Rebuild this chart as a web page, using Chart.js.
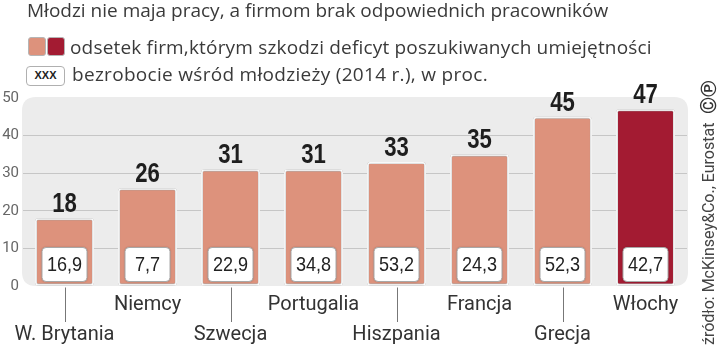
<!DOCTYPE html>
<html>
<head>
<meta charset="utf-8">
<script src="https://cdn.jsdelivr.net/npm/chart.js"></script>
<style>
    * { margin: 0; padding: 0; box-sizing: border-box; }
    body { background: #fff; width: 720px; height: 347px; overflow: hidden; }
    .wrap { position: relative; width: 720px; height: 347px; font-family: "Open Sans", sans-serif; color: #3a3a3a; }
    #chart { position: absolute; left: 0; top: 0; }
    .title { position: absolute; left: 27px; top: -2px; font-size: 19px; line-height: 24px; white-space: nowrap; }
    .leg { position: absolute; font-size: 19px; line-height: 22px; white-space: nowrap; }
    .sw { position: absolute; border: 1px solid #b5b5b5; border-radius: 3px; }
    .xxx { position: absolute; left: 26px; top: 66px; width: 39px; height: 20px; border: 1.5px solid #b0b0b0; border-radius: 4px; background: #fff;
           font: bold 11px "Liberation Sans", sans-serif; text-align: center; line-height: 17px; color: #222; }
    .src { position: absolute; left: 700px; top: 345px; transform: rotate(-90deg); transform-origin: left top; font-family: Roboto, sans-serif; font-size: 16px; line-height: 18px; white-space: nowrap; color: #444; }
    .cp { position: absolute; left: 698px; top: 114px; transform: rotate(-90deg); transform-origin: left top; font-family: Roboto, sans-serif; font-size: 22px; font-weight: bold; line-height: 22px; white-space: nowrap; color: #333; }
</style>
</head>
<body>
<div class="wrap">
    <canvas id="chart" width="720" height="347"></canvas>
    <div class="title">Młodzi nie maja pracy, a firmom brak odpowiednich pracowników</div>
    <div class="sw" style="left:28px;top:37px;width:18px;height:19px;background:#dd927c;"></div>
    <div class="sw" style="left:47px;top:37px;width:18px;height:19px;background:#a31b32;"></div>
    <div class="leg" style="left:70px;top:36px;letter-spacing:0.18px;">odsetek firm,którym szkodzi deficyt poszukiwanych umiejętności</div>
    <div class="xxx">XXX</div>
    <div class="leg" style="left:72px;top:63px;letter-spacing:0.3px;">bezrobocie wśród młodzieży (2014 r.), w proc.</div>
    <div class="src">źródło: McKinsey&amp;Co., Eurostat</div>
    <div class="cp">©℗</div>
</div>
<script>
    // dane
    const categories = ['W. Brytania', 'Niemcy', 'Szwecja', 'Portugalia', 'Hiszpania', 'Francja', 'Grecja', 'Włochy'];
    const skillGap = [18, 26, 31, 31, 33, 35, 45, 47];
    const youthUnemployment = [16.9, 7.7, 22.9, 34.8, 53.2, 24.3, 52.3, 42.7];
    const yTicks = [0, 10, 20, 30, 40, 50];

    const light = '#dd927c';
    const dark = '#a31b32';

    function roundRect(ctx, x, y, w, h, r) {
        ctx.beginPath();
        ctx.moveTo(x + r, y);
        ctx.lineTo(x + w - r, y);
        ctx.quadraticCurveTo(x + w, y, x + w, y + r);
        ctx.lineTo(x + w, y + h - r);
        ctx.quadraticCurveTo(x + w, y + h, x + w - r, y + h);
        ctx.lineTo(x + r, y + h);
        ctx.quadraticCurveTo(x, y + h, x, y + h - r);
        ctx.lineTo(x, y + r);
        ctx.quadraticCurveTo(x, y, x + r, y);
        ctx.closePath();
    }

    // tekst "zwężony" - nie ma fontu condensed, więc skalujemy w poziomie
    function narrowText(ctx, text, x, y, sx) {
        ctx.save();
        ctx.translate(x, y);
        ctx.scale(sx, 1);
        ctx.fillText(text, 0, 0);
        ctx.restore();
    }

    const panel = {
        id: 'panel',
        beforeDraw(chart) {
            const a = chart.chartArea, ctx = chart.ctx;
            ctx.save();
            roundRect(ctx, a.left - 1, a.top - 1, a.right - a.left + 2, a.bottom - a.top + 1, 14);
            ctx.fillStyle = '#ececec';
            ctx.fill();
            ctx.restore();
        },
        beforeDatasetsDraw(chart) {
            chart.ctx.save();
            chart.ctx.shadowColor = 'rgba(0,0,0,0.45)';
            chart.ctx.shadowBlur = 2;
        },
        afterDatasetsDraw(chart) {
            const ctx = chart.ctx;
            ctx.restore();
            const meta = chart.getDatasetMeta(0);
            ctx.save();
            meta.data.forEach((bar, i) => {
                // wartość nad słupkiem
                ctx.fillStyle = '#1e1e1e';
                ctx.font = 'bold 27px "Liberation Sans", sans-serif';
                ctx.textAlign = 'center';
                ctx.textBaseline = 'alphabetic';
                narrowText(ctx, String(skillGap[i]), bar.x, bar.y - 6, 0.82);

                // ramka z bezrobociem
                const bw = 45, bh = 34;
                const by = bar.base - 38;
                ctx.save();
                ctx.shadowColor = 'rgba(0,0,0,0.35)';
                ctx.shadowBlur = 2;
                roundRect(ctx, bar.x - bw / 2, by, bw, bh, 4);
                ctx.fillStyle = '#fff';
                ctx.fill();
                ctx.restore();
                roundRect(ctx, bar.x - bw / 2, by, bw, bh, 4);
                ctx.strokeStyle = '#a8a8a8';
                ctx.lineWidth = 1;
                ctx.stroke();
                ctx.fillStyle = '#222';
                ctx.font = '21px "Liberation Sans", sans-serif';
                ctx.textBaseline = 'middle';
                narrowText(ctx, youthUnemployment[i].toFixed(1).replace('.', ','), bar.x, by + bh / 2 + 1, 0.86);
            });
            ctx.restore();
        },
        afterDraw(chart) {
            const ctx = chart.ctx;
            const meta = chart.getDatasetMeta(0);
            ctx.save();
            ctx.font = '20px Roboto, sans-serif';
            ctx.fillStyle = '#333';
            ctx.textAlign = 'center';
            ctx.textBaseline = 'alphabetic';
            meta.data.forEach((bar, i) => {
                const x = Math.round(bar.x) + 0.5;
                if (i % 2 === 0) {
                    ctx.strokeStyle = '#777';
                    ctx.lineWidth = 1;
                    ctx.beginPath();
                    ctx.moveTo(x, bar.base + 2);
                    ctx.lineTo(x, 322);
                    ctx.stroke();
                    ctx.fillText(categories[i], bar.x, 340);
                } else {
                    ctx.fillText(categories[i], bar.x, 310);
                }
            });
            ctx.restore();
        }
    };

    new Chart(document.getElementById('chart'), {
        type: 'bar',
        data: {
            labels: categories,
            datasets: [{
                data: skillGap,
                backgroundColor: categories.map((c, i) => i === categories.length - 1 ? dark : light),
                borderColor: '#fff',
                borderWidth: 2,
                borderRadius: 3,
                borderSkipped: false,
                barPercentage: 0.71,
                categoryPercentage: 1
            }]
        },
        options: {
            responsive: false,
            devicePixelRatio: 1,
            animation: false,
            layout: { padding: { top: 98, bottom: 61, left: 0, right: 33 } },
            plugins: { legend: { display: false }, tooltip: { enabled: false } },
            scales: {
                x: { display: false },
                y: {
                    min: 0,
                    max: 50,
                    afterFit(scale) { scale.width = 23; },
                    afterBuildTicks(scale) { scale.ticks = yTicks.map(v => ({ value: v })); },
                    border: { display: false },
                    grid: {
                        drawTicks: false,
                        color: c => (c.tick && c.tick.value > 0 && c.tick.value < 50) ? '#c6c6c6' : 'rgba(0,0,0,0)'
                    },
                    ticks: {
                        padding: 4,
                        color: '#666',
                        font: { family: 'Roboto, sans-serif', size: 15 }
                    }
                }
            }
        },
        plugins: [panel]
    });
</script>
</body>
</html>
